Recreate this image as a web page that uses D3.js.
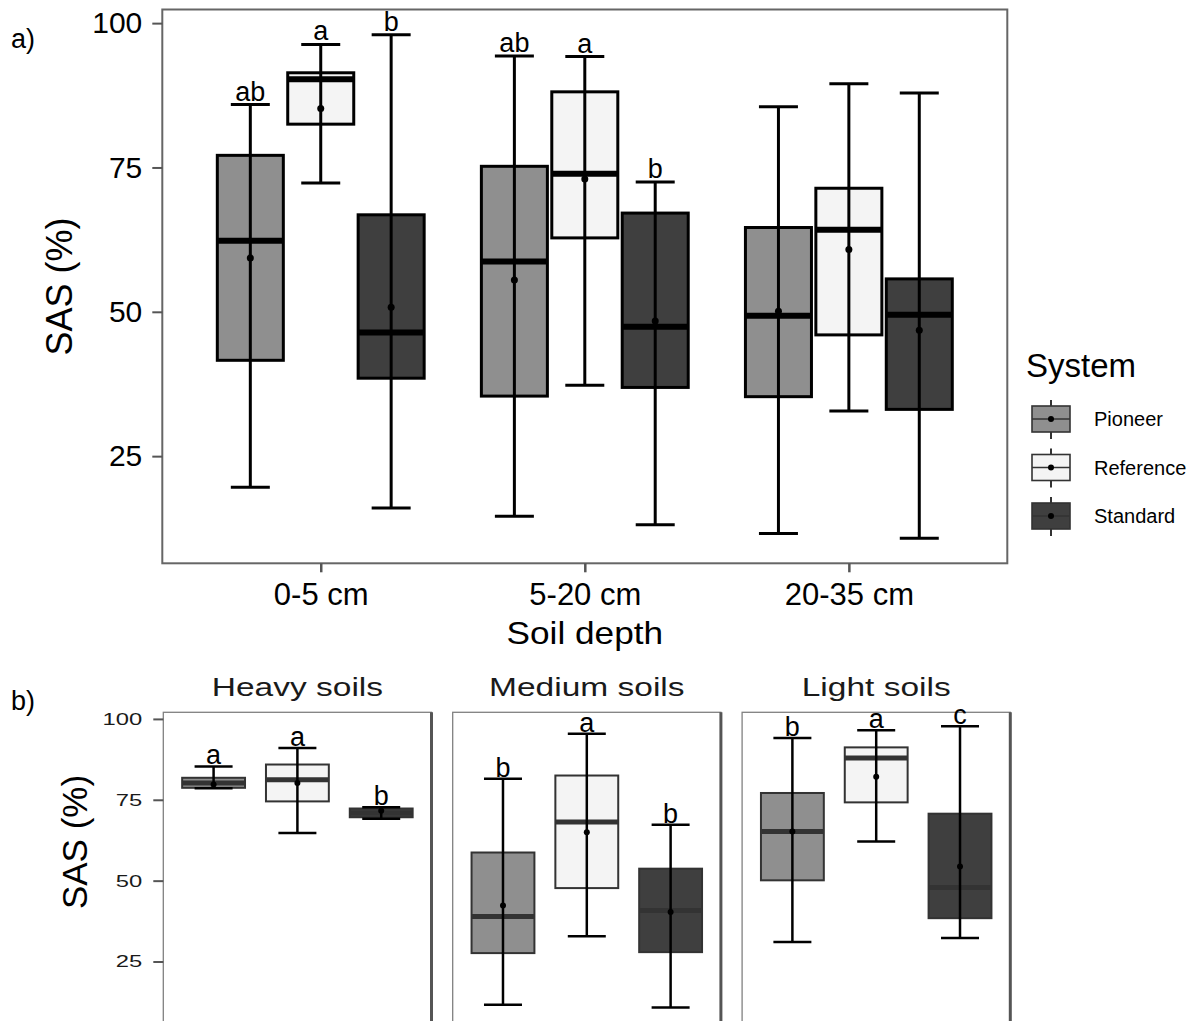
<!DOCTYPE html>
<html>
<head>
<meta charset="utf-8">
<script src="https://cdn.jsdelivr.net/npm/d3@7"></script>
<style>
  body { margin: 0; background: #fff; }
  text { font-family: "Liberation Sans", Arial, sans-serif; }
</style>
</head>
<body>
<svg id="chart" width="1197" height="1021"></svg>
<script>
const depths = ["0-5 cm", "5-20 cm", "20-35 cm"];
const systems = ["Pioneer", "Reference", "Standard"];
const soils = ["Heavy soils", "Medium soils", "Light soils"];
const yTicks = [25, 50, 75, 100];

// panel a) rows = depth, columns = system
const depthLow  = [[19.6, 72.3, 16.0], [14.6, 37.3, 13.1], [11.6, 32.8, 10.8]];
const depthQ1   = [[41.6, 82.5, 38.5], [35.4, 62.8, 36.9], [35.3, 46.0, 33.1]];
const depthMed  = [[62.3, 90.3, 46.4], [58.7, 73.9, 47.4], [49.3, 64.2, 49.5]];
const depthQ3   = [[77.1, 91.4, 66.8], [75.2, 88.1, 67.1], [64.6, 71.4, 55.7]];
const depthHigh = [[85.9, 96.3, 98.0], [94.3, 94.2, 72.5], [85.5, 89.5, 87.9]];
const depthMean = [[59.3, 85.2, 50.8], [55.5, 73.0, 48.4], [50.1, 60.8, 46.8]];
const depthLetters = [["ab", "a", "b"], ["ab", "a", "b"], ["", "", ""]];

// panel b) rows = soil type, columns = system
const soilLow  = [[78.6, 64.7, 69.1], [11.6, 32.8, 10.8], [31.0, 62.1, 32.3]];
const soilQ1   = [[78.7, 74.5, 69.6], [27.6, 47.7, 27.9], [50.1, 74.2, 38.4]];
const soilMed  = [[80.2, 81.2, 70.9], [38.9, 68.1, 40.8], [65.2, 87.9, 47.9]];
const soilQ3   = [[81.8, 85.9, 72.3], [58.7, 82.5, 53.7], [77.1, 91.2, 70.7]];
const soilHigh = [[85.3, 91.0, 72.7], [81.5, 95.4, 67.3], [94.1, 96.5, 97.7]];
const soilMean = [[79.7, 80.2, 71.6], [42.3, 65.0, 40.3], [65.2, 82.1, 54.4]];
const soilLetters = [["a", "a", "b"], ["b", "a", "b"], ["b", "a", "c"]];

const fills = {Pioneer: "#8f8f8f", Reference: "#f4f4f4", Standard: "#3f3f3f"};

const svg = d3.select("#chart");

// ggplot style 5% expansion of the data range
const padRange = (lo, hi) => {
    const lo2 = d3.min(lo.flat()), hi2 = d3.max(hi.flat());
    const e = (hi2 - lo2) * 0.05;
    return [lo2 - e, hi2 + e];
};

const drawBox = (g, cx, bw, capW, y, d, look) => {
    g.append("rect")
        .attr("x", cx - bw / 2).attr("y", y(d.q3))
        .attr("width", bw).attr("height", y(d.q1) - y(d.q3))
        .attr("fill", d.fill)
        .attr("stroke", look.stroke).attr("stroke-width", look.boxW);
    g.append("line")
        .attr("x1", cx - bw / 2).attr("x2", cx + bw / 2)
        .attr("y1", y(d.med)).attr("y2", y(d.med))
        .attr("stroke", look.stroke).attr("stroke-width", look.medW);
    // errorbar
    g.append("line")
        .attr("x1", cx).attr("x2", cx)
        .attr("y1", y(d.low)).attr("y2", y(d.high))
        .attr("stroke", "#000").attr("stroke-width", look.whW);
    [d.low, d.high].forEach(v => {
        g.append("line")
            .attr("x1", cx - capW / 2).attr("x2", cx + capW / 2)
            .attr("y1", y(v)).attr("y2", y(v))
            .attr("stroke", "#000").attr("stroke-width", look.whW);
    });
    g.append("circle")
        .attr("cx", cx).attr("cy", y(d.mean)).attr("r", look.dotR)
        .attr("fill", "#000");
    if (d.letter) {
        g.append("text")
            .attr("x", cx).attr("y", y(d.high) - look.letterGap)
            .attr("text-anchor", "middle")
            .attr("font-size", look.letterSize)
            .attr("fill", "#000")
            .text(d.letter);
    }
};

// ---------------- panel a ----------------
const A = {left: 162.3, right: 1007.3, top: 9.5, bottom: 563.3};
const xA = d3.scalePoint().domain(depths).range([A.left, A.right]).padding(0.6);
const yA = d3.scaleLinear().domain(padRange(depthLow, depthHigh)).range([A.bottom, A.top]);
const sysA = d3.scalePoint().domain(systems).range([-1, 1]);

const gA = svg.append("g");
gA.append("rect")
    .attr("x", A.left).attr("y", A.top)
    .attr("width", A.right - A.left).attr("height", A.bottom - A.top)
    .attr("fill", "#fff").attr("stroke", "#666").attr("stroke-width", 2);

const lookA = {stroke: "#000", boxW: 3, medW: 6, whW: 3, dotR: 3.5, letterGap: 4, letterSize: 27};
depths.forEach((dep, i) => {
    systems.forEach((s, j) => {
        const cx = xA(dep) + sysA(s) * xA.step() * 0.8 / 3;
        drawBox(gA, cx, xA.step() * 0.25, 39, yA, {
            low: depthLow[i][j], q1: depthQ1[i][j], med: depthMed[i][j],
            q3: depthQ3[i][j], high: depthHigh[i][j], mean: depthMean[i][j],
            letter: depthLetters[i][j], fill: fills[s]
        }, lookA);
    });
});

const axA = gA.append("g").attr("transform", `translate(${A.left},0)`)
    .call(d3.axisLeft(yA).tickValues(yTicks).tickSize(10).tickPadding(10));
axA.select(".domain").remove();
axA.selectAll("line").attr("stroke", "#555").attr("stroke-width", 2);
axA.selectAll("text").attr("font-size", 30).attr("fill", "#000")
    .style("font-family", "'Liberation Sans', Arial, sans-serif");

const axAx = gA.append("g").attr("transform", `translate(0,${A.bottom})`)
    .call(d3.axisBottom(xA).tickSize(9).tickPadding(11));
axAx.select(".domain").remove();
axAx.selectAll("line").attr("stroke", "#555").attr("stroke-width", 2.5);
axAx.selectAll("text").attr("font-size", 31).attr("fill", "#000")
    .style("font-family", "'Liberation Sans', Arial, sans-serif");

svg.append("text")
    .attr("transform", `translate(${(A.left + A.right) / 2},644) scale(1.1,1)`)
    .attr("text-anchor", "middle").attr("font-size", 32).text("Soil depth");
svg.append("text")
    .attr("transform", `translate(72,${(A.top + A.bottom) / 2}) rotate(-90)`)
    .attr("text-anchor", "middle").attr("font-size", 36).text("SAS (%)");
svg.append("text").attr("x", 11).attr("y", 48).attr("font-size", 27).text("a)");

// legend
const leg = svg.append("g");
leg.append("text").attr("x", 1026).attr("y", 377).attr("font-size", 33).text("System");
const legY = d3.scalePoint().domain(systems).range([419, 516]);
systems.forEach(s => {
    const cy = legY(s), cx = 1051, w = 38, h = 26;
    leg.append("line").attr("x1", cx).attr("x2", cx).attr("y1", cy - 19).attr("y2", cy + 20)
        .attr("stroke", "#333").attr("stroke-width", 2);
    leg.append("rect").attr("x", cx - w / 2).attr("y", cy - h / 2).attr("width", w).attr("height", h)
        .attr("fill", fills[s]).attr("stroke", "#333").attr("stroke-width", 1.6);
    leg.append("line").attr("x1", cx - w / 2).attr("x2", cx + w / 2).attr("y1", cy).attr("y2", cy)
        .attr("stroke", "#333").attr("stroke-width", 1.6);
    leg.append("circle").attr("cx", cx).attr("cy", cy).attr("r", 3).attr("fill", "#000");
    leg.append("text").attr("x", 1094).attr("y", cy + 7).attr("font-size", 20).text(s);
});

// ---------------- panel b ----------------
const B = {left: 163.3, width: 268.2, gap: 21.2, top: 712.3, bottom: 1021.5};
const yB = d3.scaleLinear().domain(padRange(soilLow, soilHigh)).range([B.bottom, B.top]);
const lookB = {stroke: "#333", boxW: 2, medW: 5, whW: 2.5, dotR: 3, letterGap: 2, letterSize: 27};

soils.forEach((soil, i) => {
    const x0 = B.left + i * (B.width + B.gap);
    const xB = d3.scalePoint().domain(systems).range([x0, x0 + B.width]).padding(0.6);
    const g = svg.append("g");
    g.append("rect")
        .attr("x", x0).attr("y", B.top).attr("width", B.width).attr("height", B.bottom - B.top + 5)
        .attr("fill", "#fff").attr("stroke", "#808080").attr("stroke-width", 1.3);
    g.append("line")
        .attr("x1", x0 + B.width).attr("x2", x0 + B.width)
        .attr("y1", B.top).attr("y2", B.bottom + 5)
        .attr("stroke", "#555").attr("stroke-width", 3);
    systems.forEach((s, j) => {
        drawBox(g, xB(s), xB.step() * 0.75, 38, yB, {
            low: soilLow[i][j], q1: soilQ1[i][j], med: soilMed[i][j],
            q3: soilQ3[i][j], high: soilHigh[i][j], mean: soilMean[i][j],
            letter: soilLetters[i][j], fill: fills[s]
        }, lookB);
    });
    svg.append("text")
        .attr("transform", `translate(${x0 + B.width / 2},696) scale(1.34,1)`)
        .attr("text-anchor", "middle").attr("font-size", 25).attr("fill", "#1a1a1a")
        .text(soil);
});

const axB = svg.append("g").attr("transform", `translate(${B.left},0)`)
    .call(d3.axisLeft(yB).tickValues(yTicks).tickSize(10).tickPadding(11));
axB.select(".domain").remove();
axB.selectAll("line").attr("stroke", "#555").attr("stroke-width", 2);
axB.selectAll("text").attr("font-size", 17).attr("fill", "#1a1a1a")
    .style("font-family", "'Liberation Sans', Arial, sans-serif")
    .attr("x", -21 / 1.4).attr("transform", "scale(1.4,1)");

svg.append("text")
    .attr("transform", `translate(87,842) rotate(-90)`)
    .attr("text-anchor", "middle").attr("font-size", 35).text("SAS (%)");
svg.append("text").attr("x", 11).attr("y", 710).attr("font-size", 27).text("b)");
</script>
</body>
</html>
